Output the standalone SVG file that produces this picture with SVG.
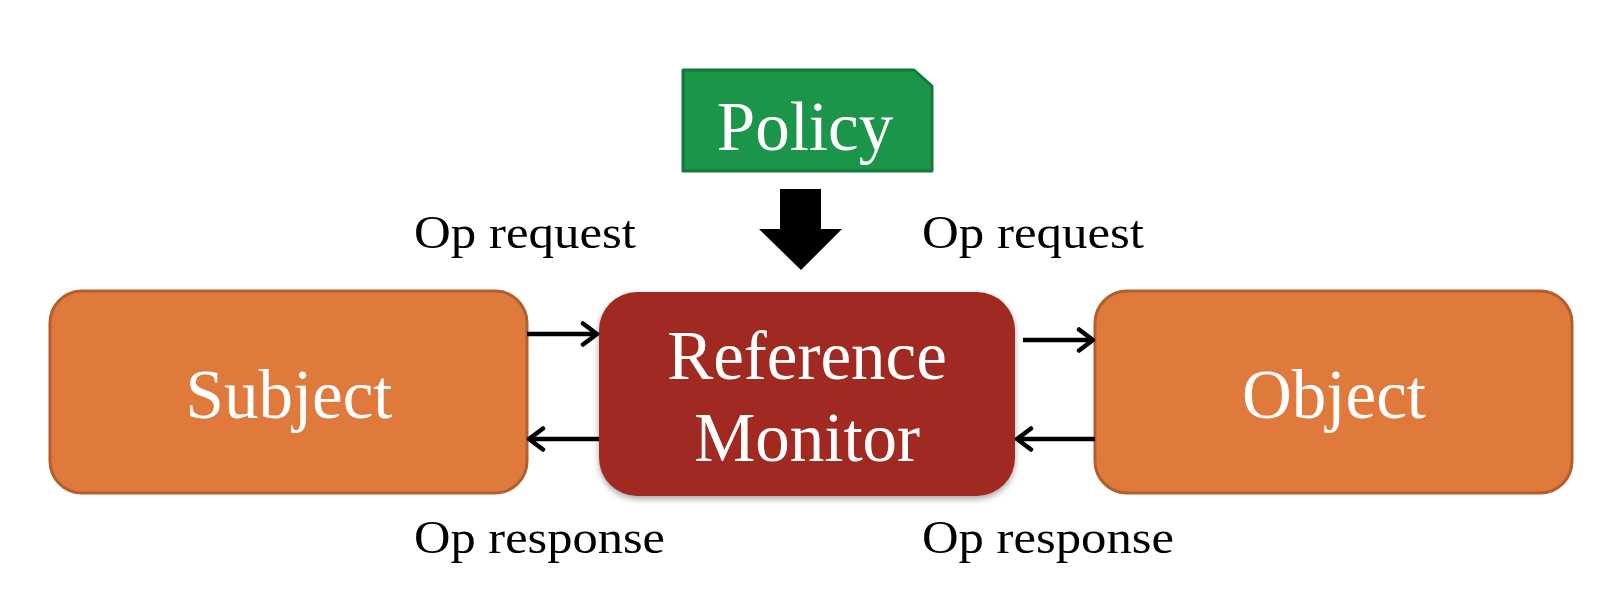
<svg xmlns="http://www.w3.org/2000/svg" width="1620" height="616" viewBox="0 0 1620 616">
<style>
.box{fill:#e07a3c;stroke:#b05f2d;stroke-width:3}
.big{font-family:"Liberation Serif","Times New Roman",serif;font-size:69px;fill:#ffffff;text-anchor:middle}
.lbl{font-family:"Liberation Serif","Times New Roman",serif;font-size:46px;fill:#000000}
.con{stroke:#000000;stroke-width:4.5;fill:none;marker-end:url(#ah)}
</style>
<defs>
<marker id="ah" markerWidth="22" markerHeight="26" refX="17" refY="13" orient="auto" markerUnits="userSpaceOnUse">
<path d="M3,2.5 L17,13 L3,23.5" fill="none" stroke="#000000" stroke-width="4.5" stroke-linecap="round" stroke-linejoin="round"/>
</marker>
<filter id="sh" x="-10%" y="-10%" width="120%" height="130%">
<feGaussianBlur in="SourceAlpha" stdDeviation="3"/>
<feOffset dx="0" dy="3" result="b"/>
<feComponentTransfer><feFuncA type="linear" slope="0.35"/></feComponentTransfer>
<feMerge><feMergeNode/><feMergeNode in="SourceGraphic"/></feMerge>
</filter>
</defs>
<rect width="1620" height="616" fill="#ffffff"/>
<g id="policy">
<path d="M683,70 L914,70 L932,86 L932,171 L683,171 Z" fill="#1a9549" stroke="#12793a" stroke-width="3" stroke-linejoin="round"/>
<text class="big" x="805" y="150">Policy</text>
</g>
<g id="subject">
<rect class="box" x="50" y="291" width="477" height="202" rx="32"/>
<text class="big" x="289" y="418">Subject</text>
</g>
<g id="reference-monitor">
<rect x="599" y="292" width="416" height="204" rx="38" fill="#a02b24" filter="url(#sh)"/>
<text class="big" x="807" y="379">Reference</text>
<text class="big" x="807" y="461">Monitor</text>
</g>
<g id="object">
<rect class="box" x="1095" y="291" width="477" height="202" rx="32"/>
<text class="big" x="1334" y="418">Object</text>
</g>
<g id="connectors">
<path d="M780,189 L821,189 L821,229 L842,229 L801,270 L759,229 L780,229 Z" fill="#000000"/>
<line class="con" x1="527" y1="334" x2="597" y2="334"/>
<line class="con" x1="599" y1="439" x2="529" y2="439"/>
<line class="con" x1="1023" y1="340" x2="1093" y2="340"/>
<line class="con" x1="1095" y1="439" x2="1017" y2="439"/>
</g>
<g id="labels">
<text class="lbl" x="414" y="248" textLength="222" lengthAdjust="spacingAndGlyphs">Op request</text>
<text class="lbl" x="922" y="248" textLength="222" lengthAdjust="spacingAndGlyphs">Op request</text>
<text class="lbl" x="414" y="553" textLength="251" lengthAdjust="spacingAndGlyphs">Op response</text>
<text class="lbl" x="922" y="553" textLength="252" lengthAdjust="spacingAndGlyphs">Op response</text>
</g>
</svg>
